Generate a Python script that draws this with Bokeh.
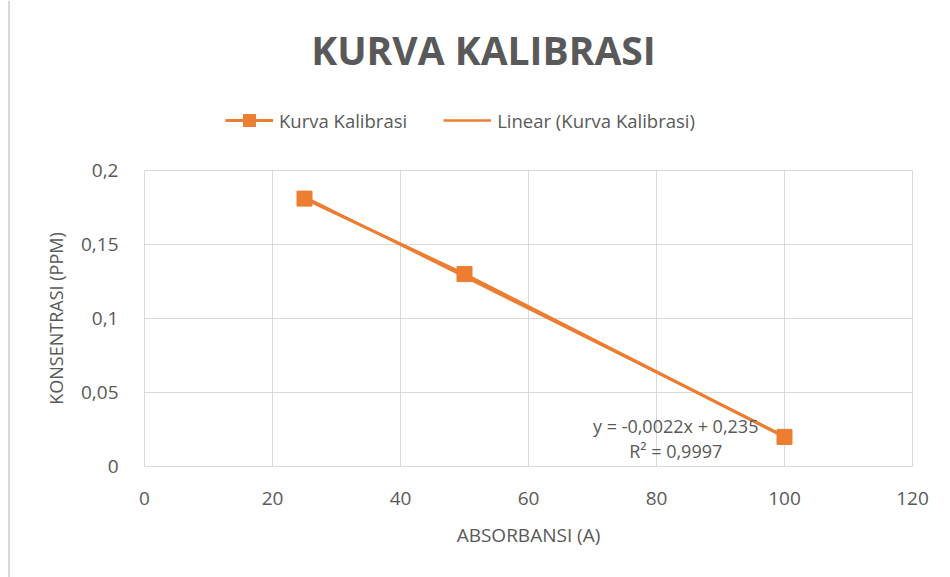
import numpy as np
from bokeh.plotting import figure
from bokeh.layouts import column, row
from bokeh.models import Legend, LegendItem, Label, FixedTicker, Range1d, Span
from bokeh.embed import file_html
from bokeh.resources import INLINE

# ---- data ----
absorbansi = [25, 50, 100]
konsentrasi = [0.181, 0.13, 0.02]
x_ticks = [0, 20, 40, 60, 80, 100, 120]
y_ticks = [0, 0.05, 0.1, 0.15, 0.2]
y_tick_labels = ["0", "0,05", "0,1", "0,15", "0,2"]
chart_title = "KURVA KALIBRASI"
equation_text = "y = -0,0022x + 0,235"
r2_text = "R² = 0,9997"
series_name = "Kurva Kalibrasi"
trend_name = "Linear (Kurva Kalibrasi)"

ORANGE = "#ED7D31"
GREY = "#595959"
GRID = "#D9D9D9"
FONT = "Open Sans"

W, H = 950, 577
STRIP_W = 10
TOP_H = 155
FRAME_L, FRAME_R = 144, 912  # page x of the plot frame (header frame is aligned to it)

# ---- left border strip (chart area edge) ----
strip = figure(width=STRIP_W, height=H, output_backend="svg", toolbar_location=None,
               x_range=Range1d(0, STRIP_W), y_range=Range1d(0, H),
               x_axis_type=None, y_axis_type=None, min_border=0)
strip.grid.visible = False
strip.outline_line_color = None
strip.add_layout(Span(location=8.5, dimension="height", line_color=GRID, line_width=2))

# ---- header: title + legend ----
top = figure(width=W - STRIP_W, height=TOP_H, output_backend="svg", toolbar_location=None,
             x_range=Range1d(FRAME_L, FRAME_R), y_range=Range1d(TOP_H, 0),
             x_axis_type=None, y_axis_type=None, min_border=0)
top.grid.visible = False
top.outline_line_color = None
top.extra_x_ranges = {"hidden": Range1d(-2, -1)}
top.extra_y_ranges = {"hidden": Range1d(-2, -1)}
top.add_layout(Label(x=483, y=49, text=chart_title, text_align="center", text_baseline="middle",
                     text_font=FONT, text_font_size="39px", text_font_style="bold",
                     text_color=GREY))
# legend proxies: same series and styling, drawn outside the visible header area
leg_line = top.line(absorbansi, konsentrasi, x_range_name="hidden", y_range_name="hidden",
                    line_color=ORANGE, line_width=3)
leg_mark = top.scatter(absorbansi, konsentrasi, x_range_name="hidden", y_range_name="hidden",
                       marker="square", size=12, fill_color=ORANGE, line_color=ORANGE)
leg_trend = top.line(absorbansi, konsentrasi, x_range_name="hidden", y_range_name="hidden",
                     line_color=ORANGE, line_width=2.5)
legend = Legend(items=[LegendItem(label=series_name, renderers=[leg_line, leg_mark]),
                       LegendItem(label=trend_name, renderers=[leg_trend])],
                orientation="horizontal", location=(81, 20),
                label_text_font=FONT, label_text_font_size="18.5px", label_text_color=GREY,
                glyph_width=48, glyph_height=30, spacing=36, label_standoff=6,
                border_line_color=None, background_fill_alpha=0, padding=0, margin=0)
top.add_layout(legend)

# ---- main chart ----
p = figure(width=W - STRIP_W, height=H - TOP_H, output_backend="svg", toolbar_location=None,
           x_range=Range1d(0, 120), y_range=Range1d(0, 0.2),
           min_border_left=FRAME_L - STRIP_W, min_border_right=W - FRAME_R,
           min_border_top=15, min_border_bottom=111)

p.outline_line_color = GRID
p.xgrid.grid_line_color = GRID
p.ygrid.grid_line_color = GRID
p.xgrid.grid_line_width = 1
p.ygrid.grid_line_width = 1

p.xaxis.ticker = FixedTicker(ticks=x_ticks)
p.yaxis.ticker = FixedTicker(ticks=y_ticks)
p.yaxis.major_label_overrides = {t: l for t, l in zip(y_ticks, y_tick_labels)}
for ax in (p.xaxis, p.yaxis):
    ax.axis_line_color = None
    ax.major_tick_line_color = None
    ax.minor_tick_line_color = None
    ax.major_label_text_font = FONT
    ax.major_label_text_font_size = "19px"
    ax.major_label_text_color = GREY
    ax.axis_label_text_font = FONT
    ax.axis_label_text_font_size = "18px"
    ax.axis_label_text_font_style = "normal"
    ax.axis_label_text_color = GREY
p.xaxis.axis_label_text_font_size = "19px"
p.xaxis.major_label_standoff = 19
p.yaxis.major_label_standoff = 20
p.xaxis.axis_label = "ABSORBANSI (A)"
p.yaxis.axis_label = "KONSENTRASI (PPM)"
p.xaxis.axis_label_standoff = 14
p.yaxis.axis_label_standoff = 10

line_r = p.line(absorbansi, konsentrasi, line_color=ORANGE, line_width=3)
slope, intercept = np.polyfit(absorbansi, konsentrasi, 1)
tx = [min(absorbansi), max(absorbansi)]
ty = [slope * v + intercept for v in tx]
trend_r = p.line(tx, ty, line_color=ORANGE, line_width=2.5)
mark_r = p.scatter(absorbansi, konsentrasi, marker="square", size=15,
                   fill_color=ORANGE, line_color=ORANGE)

p.add_layout(Label(x=83, y=0.0277, text=equation_text, text_align="center",
                   text_baseline="middle", text_font=FONT, text_font_size="18px",
                   text_color=GREY))
p.add_layout(Label(x=83, y=0.0105, text=r2_text, text_align="center",
                   text_baseline="middle", text_font=FONT, text_font_size="18px",
                   text_color=GREY))

layout = row(strip, column(top, p, spacing=0), spacing=0)

open("out.html", "w").write(file_html(layout, INLINE))
